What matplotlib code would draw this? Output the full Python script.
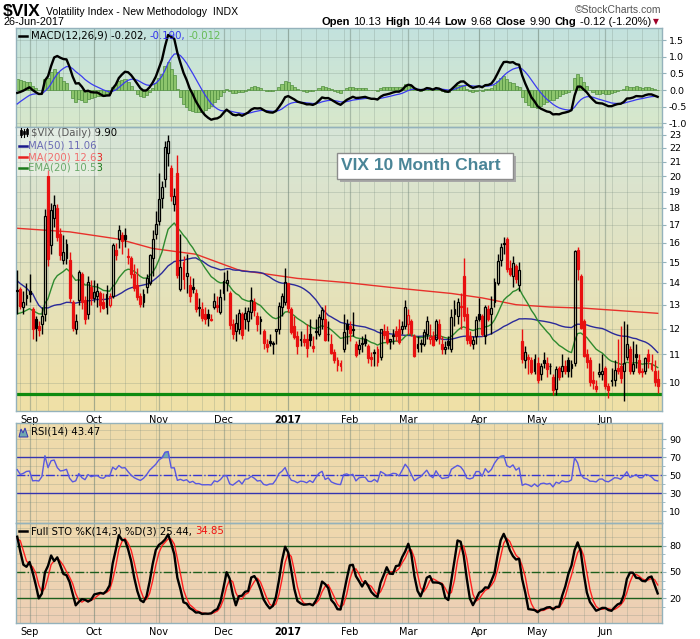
import numpy as np
import pandas as pd
import matplotlib
matplotlib.use("Agg")
import matplotlib.pyplot as plt
from matplotlib.colors import to_rgb
from matplotlib.lines import Line2D
from matplotlib.patches import Rectangle, Polygon

W, H = 700, 639

# exchange holidays inside the date range
holidays = ["2016-07-04", "2016-09-05", "2016-11-24", "2016-12-26", "2017-01-02",
            "2017-01-16", "2017-02-20", "2017-04-14", "2017-05-29"]

# closes before the visible window (Jun 1 .. Aug 25 2016), only to warm up the indicators
warm_close = [14.20, 13.63, 13.47, 13.65, 14.05, 14.08, 14.64, 17.03, 20.97, 20.50, 20.14,
              19.37, 19.41, 18.37, 18.48, 21.17, 17.25, 25.76, 23.85, 18.75, 16.64, 15.63,
              14.77, 15.58, 14.96, 14.76, 13.20, 13.54, 13.55, 13.04, 12.82, 12.67, 12.44,
              11.97, 11.77, 12.74, 12.02, 12.87, 13.05, 12.83, 12.72, 11.87,
              12.44, 13.37, 12.86, 12.42, 11.39, 11.50, 11.66, 12.05, 11.68, 11.55, 11.81,
              12.64, 12.19, 11.43, 11.34, 12.27, 12.38, 13.45, 13.63]

# visible daily bars, 26-Aug-2016 .. 26-Jun-2017
opens = [13.60, 13.70, 12.90, 13.30,
         13.60, 12.80, 12.40, 12.10, 12.20, 12.60, 20.00, 15.90, 17.40, 18.00, 16.50, 15.10, 15.20, 15.10, 13.10, 12.00, 13.20, 14.40, 13.20, 12.60, 13.80,
         13.30, 13.40, 13.50, 13.10, 12.90, 13.00, 13.40, 15.60, 16.20, 16.40, 16.40, 15.30, 15.20, 14.40, 13.90, 13.40, 13.10, 13.80, 14.00, 15.20, 16.50,
         17.20, 18.60, 19.80, 21.60, 20.60, 18.20, 20.20, 13.70, 15.00, 14.30, 13.90, 13.80, 13.50, 12.90, 12.80, 12.60, 12.60, 12.40, 12.90, 13.00, 12.70,
         13.50, 14.00, 13.50, 12.20, 11.90, 12.00, 12.60, 12.40, 12.30, 12.70, 13.10, 12.50, 12.40, 11.90, 11.40, 11.50, 11.40, 11.90, 12.00, 12.90, 13.10,
         14.00, 12.80, 12.10, 11.70, 11.60, 11.60, 11.60, 11.80, 11.30, 11.90, 11.80, 12.40, 12.40, 11.80, 11.40, 11.10, 10.80, 10.70, 11.20, 12.20,
         12.10, 12.00, 11.40, 11.20, 11.40, 11.60, 11.30, 10.90, 11.10, 11.20, 10.90, 11.90, 11.90, 11.50, 11.70, 11.90, 12.00, 12.00, 12.10,
         12.20, 12.30, 11.70, 11.40, 11.40, 11.40, 11.80, 11.60, 11.70, 11.60, 12.20, 11.40, 11.20, 11.50, 11.20, 12.60, 12.50, 12.90, 14.30, 12.60, 11.70, 11.40, 11.70,
         12.60, 12.50, 11.70, 12.80, 12.60, 13.10, 14.00, 15.10, 16.00, 16.20, 14.70, 14.30, 14.80, 13.90, 11.50, 10.80, 10.90, 10.80, 10.40,
         10.70, 10.30, 10.80, 10.70, 10.60, 10.20, 9.80, 10.50, 10.40, 10.60, 10.80, 10.50, 10.70, 15.60, 14.30, 12.30, 11.00, 10.80, 10.10, 9.90, 10.30, 10.30,
         10.50, 9.90, 10.10, 10.10, 10.50, 10.60, 10.40, 10.90, 11.20, 10.40, 11.00, 10.80, 10.40, 10.40, 11.00, 10.70, 10.40, 10.13]
highs = [14.60, 13.80, 13.60, 14.00,
         14.40, 12.90, 12.50, 12.30, 12.90, 17.90, 20.40, 18.30, 18.80, 18.20, 16.80, 16.40, 16.20, 15.50, 13.20, 12.60, 14.60, 14.50, 13.40, 14.30, 14.10,
         14.10, 14.00, 13.60, 13.50, 13.90, 13.50, 16.00, 16.00, 17.00, 16.60, 16.80, 15.70, 15.30, 14.90, 14.70, 13.50, 13.70, 14.40, 15.40, 16.70, 17.80,
         20.20, 19.70, 22.50, 23.00, 20.80, 19.20, 21.50, 16.50, 15.30, 15.40, 14.30, 14.20, 13.70, 13.30, 13.10, 12.90, 12.80, 12.60, 13.50, 13.40, 13.70,
         14.50, 14.60, 13.60, 12.40, 12.60, 12.80, 12.70, 12.90, 12.90, 13.80, 13.30, 12.70, 12.50, 12.00, 11.60, 11.80, 11.50, 12.00, 13.10, 13.50, 14.70,
         14.00, 12.90, 12.50, 11.90, 11.90, 11.80, 12.20, 12.40, 11.70, 12.40, 12.60, 12.90, 13.00, 12.30, 11.80, 11.20, 10.90, 10.80, 12.60, 12.40,
         12.30, 12.70, 11.50, 11.60, 11.70, 11.80, 11.40, 11.10, 11.20, 11.30, 12.00, 12.20, 12.10, 11.60, 12.00, 12.10, 12.40, 12.30, 13.20,
         12.80, 12.40, 11.80, 11.70, 11.60, 12.00, 12.50, 12.20, 11.90, 12.40, 12.40, 11.70, 11.50, 11.70, 12.80, 13.20, 13.30, 13.50, 15.20, 12.90, 11.90, 11.70, 12.50,
         13.30, 12.60, 13.00, 13.00, 13.40, 14.20, 15.40, 16.00, 16.30, 16.30, 15.10, 15.30, 14.90, 15.00, 12.00, 11.30, 11.00, 10.90, 11.00,
         10.90, 10.70, 11.10, 10.90, 10.70, 10.30, 10.60, 10.60, 11.00, 10.80, 10.90, 10.80, 15.60, 15.80, 14.40, 12.40, 11.20, 10.90, 10.40, 10.10, 10.70, 11.00,
         10.60, 10.00, 10.50, 10.80, 11.60, 12.10, 12.30, 12.20, 11.30, 11.50, 11.40, 11.00, 10.50, 10.90, 11.20, 11.00, 10.80, 10.44]
lows = [12.60, 12.80, 12.60, 13.00,
        13.10, 11.60, 11.50, 11.70, 11.80, 12.30, 14.80, 15.40, 16.90, 16.10, 15.10, 14.90, 14.90, 13.10, 11.90, 11.80, 13.00, 12.80, 12.20, 12.40, 13.00,
        13.10, 12.90, 12.70, 12.80, 12.60, 12.90, 13.30, 15.10, 15.70, 15.40, 15.80, 14.90, 14.20, 13.60, 13.20, 12.90, 12.90, 13.50, 13.90, 14.30, 16.20,
        17.00, 18.00, 19.30, 20.70, 18.40, 17.80, 14.20, 13.60, 13.70, 13.50, 13.10, 13.50, 12.70, 12.50, 12.30, 12.20, 12.10, 12.30, 12.80, 12.70, 12.60,
        13.20, 13.60, 12.00, 11.60, 11.50, 11.80, 11.60, 12.00, 11.90, 12.40, 12.50, 11.90, 11.80, 11.20, 11.10, 11.30, 11.00, 11.40, 11.80, 12.50, 13.00,
        12.70, 11.80, 11.60, 11.00, 11.30, 11.30, 10.90, 11.30, 11.10, 11.60, 11.70, 12.00, 11.50, 11.50, 11.00, 10.70, 10.40, 10.40, 11.10, 11.40,
        11.50, 11.70, 10.90, 11.00, 11.10, 11.30, 10.70, 10.60, 10.60, 10.60, 10.80, 11.60, 11.40, 11.20, 11.40, 11.50, 11.40, 11.80, 12.00,
        11.80, 11.70, 10.90, 11.10, 11.10, 11.30, 11.60, 11.40, 11.30, 11.50, 11.40, 11.00, 11.00, 11.20, 11.10, 12.10, 12.20, 12.00, 12.30, 11.40, 11.30, 11.20, 11.40,
        12.30, 11.70, 11.40, 12.30, 11.80, 12.90, 13.90, 14.80, 15.40, 14.50, 14.30, 13.80, 14.00, 13.60, 10.70, 10.50, 10.30, 10.30, 10.30,
        10.00, 10.10, 10.50, 10.20, 10.30, 9.60, 9.60, 10.10, 10.20, 10.30, 10.20, 10.20, 10.60, 14.10, 12.00, 10.90, 10.50, 9.90, 9.80, 9.70, 10.20, 10.10,
        9.80, 9.50, 9.90, 9.90, 10.30, 10.00, 9.40, 10.80, 10.30, 10.30, 10.50, 10.30, 10.20, 10.30, 10.50, 10.40, 9.90, 9.68]
closes = [13.65, 12.94, 13.12, 13.42,
          13.48, 11.98, 12.02, 11.94, 12.51, 17.50, 15.16, 17.85, 18.14, 16.30, 15.37, 15.53, 15.92, 13.30, 12.02, 12.29, 14.50, 13.10, 12.39, 14.02, 13.29,
          13.57, 13.63, 12.99, 12.84, 13.48, 13.38, 15.91, 15.36, 16.69, 16.12, 16.21, 15.28, 14.41, 13.75, 13.34, 13.02, 13.46, 14.24, 15.36, 16.19, 17.06,
          18.56, 19.32, 22.08, 22.51, 18.71, 18.74, 14.38, 14.74, 14.17, 14.48, 13.37, 13.72, 12.82, 12.85, 12.42, 12.41, 12.43, 12.34, 13.15, 12.90, 13.33,
          14.07, 14.12, 12.14, 11.79, 12.22, 12.64, 11.75, 12.64, 12.72, 13.19, 12.79, 12.20, 12.29, 11.45, 11.27, 11.43, 11.44, 11.99, 12.95, 13.37, 14.04,
          12.85, 11.85, 11.67, 11.32, 11.56, 11.49, 11.26, 11.54, 11.23, 11.87, 12.48, 12.78, 11.54, 11.77, 11.07, 10.81, 10.63, 10.58, 11.88, 11.99,
          11.81, 11.93, 10.97, 11.37, 11.45, 11.45, 10.88, 10.85, 11.07, 10.74, 11.97, 11.76, 11.49, 11.57, 11.74, 11.71, 11.47, 12.09, 12.92,
          12.54, 11.81, 10.96, 11.24, 11.45, 11.86, 12.30, 11.66, 11.35, 12.30, 11.63, 11.21, 11.28, 11.34, 12.47, 12.81, 13.12, 12.96, 12.50, 11.53, 11.42, 11.54, 12.37,
          12.38, 11.79, 12.89, 12.39, 12.87, 14.05, 15.07, 15.77, 15.96, 14.66, 14.42, 14.93, 14.15, 14.63, 10.84, 11.10, 10.85, 10.36, 10.82,
          10.11, 10.59, 10.68, 10.46, 10.57, 9.77, 10.46, 10.21, 10.60, 10.40, 10.42, 10.65, 15.59, 14.66, 12.04, 10.93, 10.72, 10.02, 9.99, 9.81, 10.38, 10.41,
          9.89, 9.75, 10.07, 10.45, 10.39, 10.16, 10.70, 11.40, 10.42, 10.64, 10.90, 10.38, 10.37, 10.86, 10.75, 10.48, 10.02, 9.90]

# 200-day average (needs history older than the window)
ma200_dates = ["2016-08-26", "2016-09-21", "2016-10-13", "2016-10-28", "2016-11-17", "2016-12-08",
               "2017-01-06", "2017-01-31", "2017-02-23", "2017-03-21", "2017-04-04", "2017-04-20",
               "2017-05-05", "2017-05-22", "2017-06-07", "2017-06-26"]
ma200_vals = [16.8, 16.6, 16.2, 15.7, 15.4, 14.6, 14.2, 14.0, 13.75, 13.5, 13.3, 13.0,
              12.9, 12.85, 12.75, 12.63]
support_level = 9.65

month_names = ["Sep", "Oct", "Nov", "Dec", "2017", "Feb", "Mar", "Apr", "May", "Jun"]

# ---- dates & indicators ----
days = pd.bdate_range("2016-06-01", "2017-06-26")
days = days[~days.isin(pd.to_datetime(holidays))]
n_warm = int((days < pd.Timestamp("2016-08-26")).sum())
dates = days[n_warm:]
assert len(dates) == len(closes) == len(opens) == len(highs) == len(lows)
assert n_warm == len(warm_close)

c_all = pd.Series(warm_close + closes)
h_all = pd.Series(warm_close + highs)
l_all = pd.Series(warm_close + lows)

ma50 = c_all.rolling(50, min_periods=1).mean()
ema20 = c_all.ewm(span=20, adjust=False).mean()
macd = c_all.ewm(span=12, adjust=False).mean() - c_all.ewm(span=26, adjust=False).mean()
signal = macd.ewm(span=9, adjust=False).mean()
hist = macd - signal
delta = c_all.diff()
gain = delta.clip(lower=0).ewm(alpha=1 / 14, adjust=False).mean()
loss = (-delta.clip(upper=0)).ewm(alpha=1 / 14, adjust=False).mean()
rsi = 100 - 100 / (1 + gain / loss)
hh = h_all.rolling(14).max()
ll = l_all.rolling(14).min()
fast_k = 100 * (c_all - ll) / (hh - ll)
pct_k = fast_k.rolling(3).mean()
pct_d = pct_k.rolling(3).mean()

cut = lambda s: s.iloc[n_warm:].to_numpy()
ma50, ema20, macd, signal, hist, rsi, pct_k, pct_d = map(cut, [ma50, ema20, macd, signal, hist, rsi, pct_k, pct_d])

O, Hh, L, C = map(np.array, [opens, highs, lows, closes])
prev = np.concatenate([[warm_close[-1]], C[:-1]])
x = np.arange(len(C))

mper = dates.to_period("M")
month_pos = np.where(mper[1:] != mper[:-1])[0] + 1
wper = dates.to_period("W")
week_pos = np.where(wper[1:] != wper[:-1])[0] + 1
ma200_pos = dates.get_indexer(pd.to_datetime(ma200_dates))

# ---- figure ----
plt.rcParams["font.family"] = ["DejaVu Sans"]
fig = plt.figure(figsize=(W / 100, H / 100), dpi=100)
fig.patch.set_facecolor("white")

fx = lambda px: px / W
fy = lambda py: 1 - py / H
LEFT, RIGHT = 16, 662
EDGE = "#94b2bb"


def panel(top, bottom, c_top, c_bot):
    r = [fx(LEFT), fy(bottom), (RIGHT - LEFT) / W, (bottom - top) / H]
    bg = fig.add_axes(r, zorder=0)
    t = np.linspace(0, 1, 200)[:, None, None]
    bg.imshow((1 - t) * np.array(to_rgb(c_top)) + t * np.array(to_rgb(c_bot)),
              aspect="auto", extent=(0, 1, 0, 1))
    bg.set_axis_off()
    ax = fig.add_axes(r, zorder=1)
    ax.set_facecolor("none")
    ax.set_xlim(-0.4, len(C) + 0.4)
    for s in ax.spines.values():
        s.set_color(EDGE)
        s.set_linewidth(1.0)
    ax.yaxis.tick_right()
    ax.tick_params(axis="y", which="both", direction="out", colors=EDGE, labelcolor="black",
                   labelsize=6.8, pad=2)
    ax.tick_params(axis="y", which="major", length=3)
    ax.tick_params(axis="y", which="minor", length=2)
    ax.tick_params(axis="x", bottom=False, labelbottom=False)
    for w in week_pos:
        ax.axvline(w, color="#6f8478", lw=0.6, alpha=0.28, zorder=0.5)
    for m in month_pos:
        ax.axvline(m, color="#6f8478", lw=0.9, alpha=0.45, zorder=0.5)
    return ax


def hgrid(ax, levels):
    for v in levels:
        ax.axhline(v, color="#6f8478", lw=0.6, alpha=0.28, zorder=0.5)


def month_labels(ax):
    ax.set_xticks(month_pos)
    ax.set_xticklabels(month_names)
    ax.tick_params(axis="x", bottom=True, labelbottom=True, length=0, pad=3, labelsize=7)
    for lab in ax.get_xticklabels():
        if lab.get_text() == "2017":
            lab.set_fontweight("bold")


# ---- MACD ----
ax1 = panel(28, 127, "#c3e2de", "#d8e8cb")
ax1.bar(x, hist, width=1.0, color="#8cc46c", edgecolor="#4f8f3f", lw=0.5, zorder=2)
ax1.plot(x, signal, color="#3b3bf0", lw=0.9, zorder=3)
ax1.plot(x, macd, color="black", lw=1.7, zorder=4)
ax1.set_ylim(-1.11, 1.86)
ax1.set_yticks([-1.0, -0.5, 0.0, 0.5, 1.0, 1.5])
ax1.set_yticklabels(["-1.0", "-0.5", "0.0", "0.5", "1.0", "1.5"])
hgrid(ax1, [-1.0, -0.5, 0.0, 0.5, 1.0, 1.5])

# ---- price ----
ax2 = panel(127, 411, "#d6e5d8", "#f0e0a6")
ax2.set_yscale("log")
ax2.set_ylim(9.10, 23.6)
ticks = list(range(10, 24))
ax2.set_yticks(ticks)
ax2.set_yticklabels([str(t) for t in ticks])
ax2.yaxis.set_minor_locator(matplotlib.ticker.NullLocator())
hgrid(ax2, ticks)

col = np.where(C < prev, "#e81010", "black")
top = np.maximum(O, C)
bot = np.minimum(O, C)
ax2.vlines(x, top, Hh, colors=col, lw=1.0, zorder=3)
ax2.vlines(x, L, bot, colors=col, lw=1.0, zorder=3)
face = [c if cl < op else "none" for c, cl, op in zip(col, C, O)]
ax2.bar(x, np.maximum(top - bot, 0.02), bottom=bot, width=0.62, color=face, edgecolor=col,
        lw=0.9, zorder=4)
ax2.plot(ma200_pos, ma200_vals, color="#e8302a", lw=1.0, zorder=2)
ax2.plot(x, ma50, color="#2a2a9a", lw=1.0, zorder=2)
ax2.plot(x, ema20, color="#2e8a2e", lw=1.0, zorder=2)
ax2.axhline(support_level, color="#0f8a0f", lw=2.3, zorder=2)
month_labels(ax2)

# ---- RSI ----
ax3 = panel(423, 523, "#efdcab", "#eed7ae")
ax3.set_ylim(-3.3, 107.8)
ax3.set_yticks([10, 30, 50, 70, 90])
ax3.set_yticks([20, 40, 60, 80], minor=True)
hgrid(ax3, range(0, 101, 10))
ax3.axhline(70, color="#3535b0", lw=1.0, zorder=2)
ax3.axhline(30, color="#3535b0", lw=1.0, zorder=2)
ax3.axhline(50, color="#3535d0", lw=1.0, ls="-.", zorder=2)
ax3.fill_between(x, 70, rsi, where=rsi > 70, interpolate=True, color="#72aab0", zorder=2)
ax3.plot(x, rsi, color="#5858e0", lw=1.0, zorder=3)

# ---- STO ----
ax4 = panel(523, 623, "#efd9ad", "#edcfb6")
ax4.set_ylim(-8.6, 106)
ax4.set_yticks([20, 50, 80])
ax4.set_yticks([10, 30, 40, 60, 70, 90], minor=True)
hgrid(ax4, range(0, 101, 10))
for lvl, ls in [(80, "-"), (20, "-"), (50, "-.")]:
    ax4.axhline(lvl, color="#1d5e1d", lw=1.0, ls=ls, zorder=2)
ax4.plot(x, pct_d, color="#ff2020", lw=1.0, zorder=3)
ax4.plot(x, pct_k, color="black", lw=1.7, zorder=4)
month_labels(ax4)

# ---- texts ----
renderer = fig.canvas.get_renderer()


def runs(px, py, parts, size=7.3, family=None, right=None):
    # draw text pieces one after another; with right= the whole run ends at that x
    made = []
    for s, color, weight in parts:
        kw = {"family": family} if family else {}
        t = fig.text(fx(px), fy(py), s, color=color, fontsize=size, weight=weight,
                     ha="left", va="center", **kw)
        made.append((t, px))
        px += t.get_window_extent(renderer=renderer).width + size * 0.45
    if right is not None:
        shift = right - (px - size * 0.45)
        for t, p in made:
            t.set_x(fx(p + shift))


def seg(x0, x1, py, color, lw=1.8):
    fig.add_artist(Line2D([fx(x0), fx(x1)], [fy(py), fy(py)], color=color, lw=lw,
                          transform=fig.transFigure, zorder=10))


head = ["Liberation Sans"]
runs(3, 11, [("$VIX", "black", "bold")], size=12.5, family=head)
runs(46, 12, [("Volatility Index - New Methodology", "black", "normal"), (" INDX", "black", "normal")],
     size=7.6, family=head)
runs(3, 22, [("26-Jun-2017", "black", "normal")], size=7.8, family=head)
fig.text(fx(661), fy(10), "\u00a9StockCharts.com", color="#555555", fontsize=7.5, ha="right",
         va="center", family=head)
runs(319, 22, [("Open", "black", "bold"), ("10.13", "black", "normal"),
               ("High", "black", "bold"), ("10.44", "black", "normal"),
               ("Low", "black", "bold"), ("9.68", "black", "normal"),
               ("Close", "black", "bold"), ("9.90", "black", "normal"),
               ("Chg", "black", "bold"), ("-0.12 (-1.20%)", "black", "normal")],
     size=8.0, family=head, right=651)
fig.text(fx(653), fy(22), "\u25bc", color="#a00028", fontsize=5.5, ha="left", va="center")

# MACD legend
seg(19, 27, 36, "black")
runs(31, 36, [("MACD(12,26,9) -0.202,", "black", "normal"), ("-0.190,", "#3333ee", "normal"),
              ("-0.012", "#66bb55", "normal")])

# price legend
fig.add_artist(Rectangle((fx(LEFT + 1), fy(176)), (97 - LEFT) / W, 48 / H, transform=fig.transFigure,
                         facecolor="white", alpha=0.35, edgecolor="none", zorder=9))
for cx, y0, y1, b0, b1 in [(21, 128, 137, 130, 135), (24, 129, 137, 131, 134), (27, 128, 136, 129, 134)]:
    fig.add_artist(Line2D([fx(cx), fx(cx)], [fy(y0), fy(y1)], color="black", lw=0.8,
                          transform=fig.transFigure, zorder=10))
    fig.add_artist(Rectangle((fx(cx - 1), fy(b1)), 2 / W, (b1 - b0) / H, transform=fig.transFigure,
                             facecolor="black", edgecolor="black", lw=0.5, zorder=10))
runs(31, 133, [("$VIX (Daily) 9.90", "black", "normal")])
seg(19, 27, 146, "#1a1a8c")
runs(28, 146, [("MA(50) 11.06", "#1a1a8c", "normal")])
seg(19, 27, 157, "#e82020")
runs(28, 157, [("MA(200) 12.63", "#e82020", "normal")])
seg(19, 27, 168, "#1a7a1a")
runs(28, 168, [("EMA(20) 10.53", "#1a7a1a", "normal")])

# annotation
fig.add_artist(Rectangle((fx(340), fy(182)), 176 / W, 26 / H, transform=fig.transFigure,
                         facecolor="#a8a8a8", edgecolor="none", zorder=9))
fig.add_artist(Rectangle((fx(337), fy(179)), 176 / W, 26 / H, transform=fig.transFigure,
                         facecolor="white", edgecolor="#8c8c8c", lw=1.0, zorder=10))
fig.text(fx(341), fy(166), "VIX 10 Month Chart", color="#4a8597", fontsize=12.5, weight="bold",
         ha="left", va="center", family=["Liberation Sans"], zorder=11)

# RSI legend
fig.add_artist(Polygon([[fx(19), fy(437)], [fx(21), fy(429)], [fx(23), fy(433)], [fx(25), fy(428)],
                        [fx(28), fy(437)]], closed=True, transform=fig.transFigure,
                       facecolor="#6fa8b0", edgecolor="#3535b0", lw=0.7, zorder=10))
runs(31, 432, [("RSI(14) 43.47", "black", "normal")])

# STO legend
seg(19, 27, 531, "black")
runs(31, 531, [("Full STO %K(14,3) %D(3) 25.44,", "black", "normal"), ("34.85", "#ee1111", "normal")])

fig.savefig("out.png", dpi=100)
